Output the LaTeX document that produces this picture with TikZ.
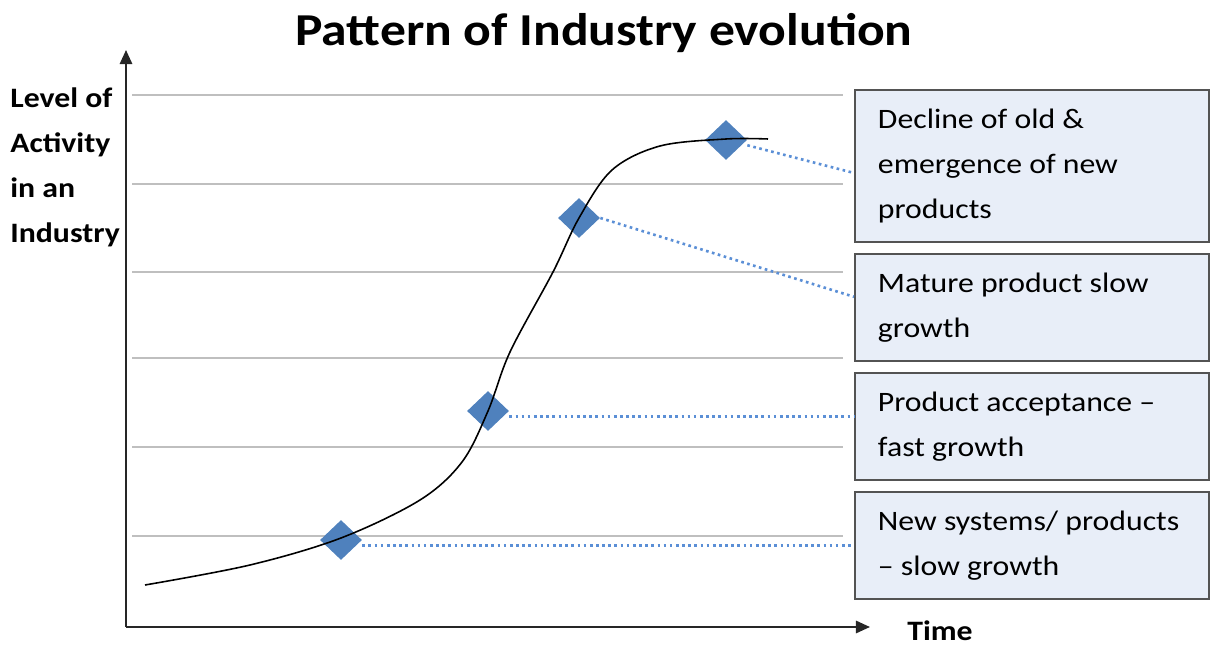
\documentclass[tikz,border=0pt]{standalone}
\usepackage{fontspec}
\setmainfont[FakeStretch=1.13]{Carlito}
\usetikzlibrary{shapes,arrows,arrows.meta,positioning}
\definecolor{bleu}{RGB}{79,129,189}
\definecolor{bleuclair}{RGB}{232,238,248}
\definecolor{pointille}{RGB}{91,143,214}

\begin{document}
\begin{tikzpicture}[x=0.02cm,y=-0.02cm,
  grille/.style  = {gray!50,line width=1.1pt},
  axe/.style     = {gray!30!black,line width=1.2pt,-{Triangle[length=8pt,width=7pt]}},
  jalon/.style   = {diamond,fill=bleu,inner sep=0pt,%
                    minimum width=0.84cm,minimum height=0.8cm},
  etape/.style   = {draw=gray!65!black,line width=1.1pt,fill=bleuclair,%
                    text width=6.16cm,inner xsep=0.46cm,align=flush left,%
                    minimum height=2.14cm,font=\fontsize{16}{25.6}\selectfont},
  lien/.style    = {pointille,dotted,line width=1.5pt},
  etiquette/.style = {font=\bfseries\fontsize{16}{25.6}\selectfont}]
\useasboundingbox (0,0) rectangle (1211,648);
% le titre
\node[font=\bfseries\fontsize{26}{32}\selectfont] (titre) at (604,33)
  {Pattern of Industry evolution};
% la grille
\foreach \y in {95,184,272,358,447,536}
  \draw[grille] (132,\y) -- (843,\y);
% les axes
\coordinate (O) at (126,627);
\coordinate (ymax) at (126,50);
\coordinate (xmax) at (870,627);
\draw[axe] (O) -- (ymax);
\draw[axe] (O) -- (xmax);
\node[etiquette,anchor=north west,align=left,inner sep=0pt] (ylab) at (10,87)
  {Level of\\Activity\\in an\\Industry};
\node[etiquette] (temps) at (940,631) {Time};
% les cadres
\node[etape,anchor=north west,minimum height=3.04cm] (b1) at (854,89)
  {Decline of old \&\\emergence of new\\products};
\node[etape,below=0.2cm of b1] (b2) {Mature product slow\\growth};
\node[etape,below=0.2cm of b2] (b3) {Product acceptance --\\fast growth};
\node[etape,below=0.2cm of b3] (b4) {New systems/ products\\-- slow growth};
% les jalons
\node[jalon] (d1) at (341,540) {};
\node[jalon] (d2) at (488,411) {};
\node[jalon] (d3) at (579,218) {};
\node[jalon] (d4) at (726,140) {};
% la courbe
\draw[line width=0.9pt] plot[smooth,tension=0.55] coordinates
  {(145,585) (250,565) (341,538) (420,500) (462,462) (488,411)
   (510,352) (553,272) (579,218) (612,170) (660,146) (726,139) (768,139)};
% les pointilles
\coordinate (p1) at ([yshift=-3pt]d1.east);
\coordinate (p2) at ([yshift=-3pt]d2.east);
\draw[lien] (p1) -- (p1 -| b4.west);
\draw[lien] (p2) -- (p2 -| b3.west);
\draw[lien] (d3.east) -- ([yshift=6pt]b2.west);
\draw[lien] ([yshift=-3pt]d4.east) -- ([yshift=-4pt]b1.west);
\end{tikzpicture}
\end{document}
